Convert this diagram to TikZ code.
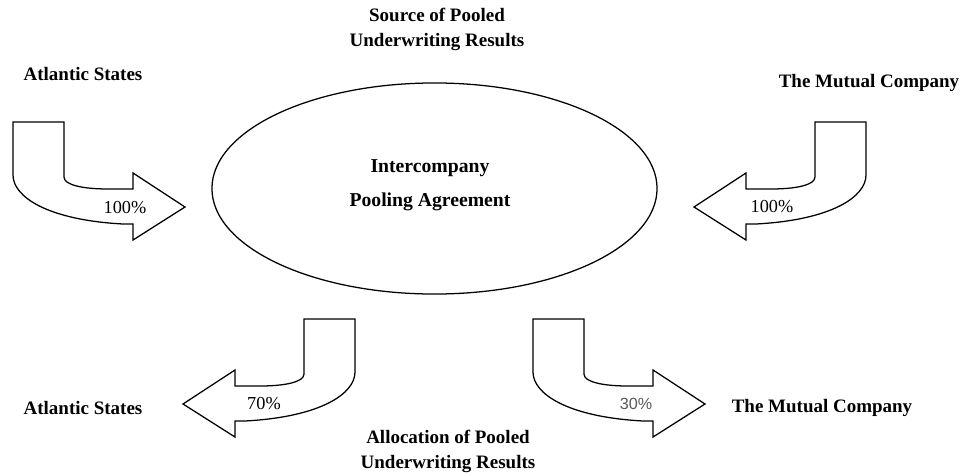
\documentclass[tikz,border=0pt]{standalone}
\usepackage{fontspec}
\setmainfont{Liberation Serif}
\newfontfamily\pctsans{Liberation Sans}
\usetikzlibrary{shapes.geometric}

\tikzset{
  lbl/.style={font=\bfseries\fontsize{13.5}{17.8}\selectfont, align=center},
  midlbl/.style={font=\bfseries\fontsize{14}{24}\selectfont, align=center},
  pct/.style={font=\fontsize{13}{15}\selectfont},
  bent/.style={draw, line width=0.9pt, line join=miter, fill=white},
  pics/bentarrow/.style={code={
    \draw[bent] (0,0) -- (51,0) -- (51,55)
      .. controls (51,63) and (70,67) .. (95,67) -- (120,67)
      -- (120,51) -- (172,85) -- (120,118) -- (120,102) -- (110,102)
      .. controls (35,98) and (0,75) .. (0,53) -- cycle;
  }}
}

\begin{document}
\begin{tikzpicture}[x=0.025cm, y=-0.025cm]
\useasboundingbox (0,0) rectangle (968,475);

% Pooling ellipse
\node[draw, ellipse, line width=0.9pt, inner sep=0pt,
  minimum width=11.125cm, minimum height=5.275cm] (pool) at (434.5,188.5) {};
\node[midlbl] (pooltxt) at (430,185) {Intercompany\\Pooling Agreement};

% Headings
\node[lbl] (source) at (437,29.5) {Source of Pooled\\Underwriting Results};
\node[lbl] (alloc) at (448,451.5) {Allocation of Pooled\\Underwriting Results};

% Companies
\node[lbl] (atlTop) at (83,74) {Atlantic States};
\node[lbl] (mutTop) at (869,83) {The Mutual Company};
\node[lbl] (atlBot) at (83,408) {Atlantic States};
\node[lbl] (mutBot) at (822,408) {The Mutual Company};

% Bent arrows in
\pic at (13,122) {bentarrow};
\pic[xscale=-1] at (866,122) {bentarrow};

% Bent arrows out
\pic[xscale=-1] at (355,319) {bentarrow};
\pic at (533,319) {bentarrow};

% Shares
\node[pct] (inAtl) at (125,208) {100\%};
\node[pct] (inMut) at (772,207) {100\%};
\node[pct] (outAtl) at (264,404) {70\%};
\node[pct, font=\pctsans\fontsize{11.5}{13}\selectfont, text=black!65] (outMut) at (636,404) {30\%};

\end{tikzpicture}
\end{document}
